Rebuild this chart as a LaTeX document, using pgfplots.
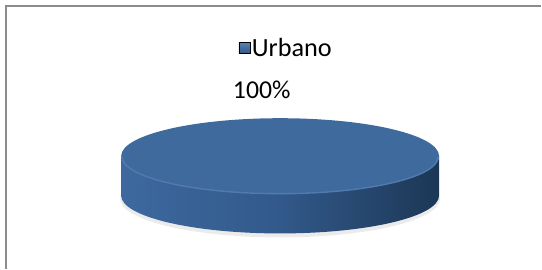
\documentclass[border=0pt]{standalone}
\usepackage{pgfplots}
\usepackage{pgfplotstable}
\pgfplotsset{compat=1.18}
\usepackage{fontspec}
\setmainfont{Carlito}
\definecolor{pietop}{HTML}{3F6A9E}
\definecolor{pierim}{HTML}{5A82B3}
\definecolor{sideL}{HTML}{3D69A0}
\definecolor{sideM}{HTML}{32598A}
\definecolor{sideR}{HTML}{1C3756}
\definecolor{framegray}{HTML}{8C8C8C}
\pgfplotstableread{
label value
Urbano 100
}\piedata
\begin{document}
\begin{tikzpicture}
\pgfplotstablegetelem{0}{value}\of\piedata
\pgfmathsetmacro{\sweep}{3.6*\pgfplotsretval}
\begin{axis}[
  x=1bp, y=1bp, scale only axis,
  xmin=0, xmax=542, ymin=0, ymax=266,
  hide axis, clip=false,
  legend style={draw=none, fill=none, at={(axis cs:240,218)}, anchor=west,
    font=\fontsize{26.5}{31}\selectfont, inner sep=0pt,
    legend cell align=left},
]
\path (axis cs:0,0) rectangle (axis cs:542,266);
% frame
\draw[framegray, line width=1.3bp] (axis cs:6,-5) -- (axis cs:6,260) -- (axis cs:545,260);
% shadow
\fill[black, opacity=0.08] (axis cs:282,66) ellipse [x radius=161, y radius=39];
% side
\shade[left color=sideL, right color=sideR, middle color=sideM]
  (axis cs:122,109) -- (axis cs:122,69)
  arc[start angle=180, end angle=360, x radius=160, y radius=38]
  -- (axis cs:442,109)
  arc[start angle=0, end angle=-180, x radius=160, y radius=38] -- cycle;
% top
\fill[pietop] (axis cs:442,109) arc[start angle=0, end angle=\sweep, x radius=160, y radius=38];
\draw[pierim!70!pietop, line width=1.4bp] (axis cs:441,108)
  arc[start angle=0, end angle=-180, x radius=159, y radius=37];
\node[font=\fontsize{26}{31}\selectfont, inner sep=0pt] at (axis cs:263.5,176) {100\%};
\addlegendimage{legend image code/.code={\shade[top color=pierim, bottom color=sideM] (-4bp,-5.5bp) rectangle (7bp,5.5bp);}}
\addlegendentry{Urbano}
\end{axis}
\end{tikzpicture}
\end{document}
